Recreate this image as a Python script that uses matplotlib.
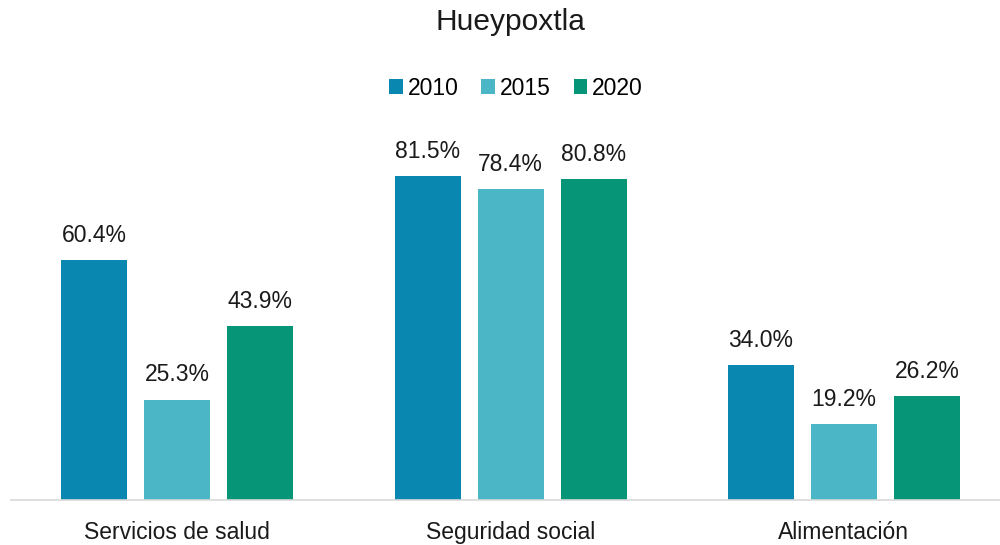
import matplotlib.pyplot as plt
import numpy as np

plt.rcParams['font.family'] = ['Liberation Sans', 'DejaVu Sans']

categories = ["Servicios de salud", "Seguridad social", "Alimentación"]
years = ["2010", "2015", "2020"]
values_2010 = [60.4, 81.5, 34.0]
values_2015 = [25.3, 78.4, 19.2]
values_2020 = [43.9, 80.8, 26.2]
colors = ["#0a87b0", "#4bb6c6", "#069576"]

fig = plt.figure(figsize=(10, 5.45), dpi=100)
ax = fig.add_axes([0.0105, 0.0826, 1.0, 0.7284])

x = np.arange(len(categories))
width = 0.198
step = 0.249
series = [values_2010, values_2015, values_2020]
for i, (vals, year, color) in enumerate(zip(series, years, colors)):
    bars = ax.bar(x + (i - 1) * step, vals, width, color=color, label=year)
    for b, v in zip(bars, vals):
        ax.annotate(f"{v:.1f}%", (b.get_x() + b.get_width() / 2, v),
                    xytext=(0, 9.5), textcoords="offset points",
                    ha="center", va="bottom", fontsize=16.5, color="#1a1a1a")

ax.set_xlim(-0.5, 2.5)
ax.set_ylim(0, 100)
ax.set_yticks([])
ax.set_xticks(x)
ax.set_xticklabels(categories, fontsize=16.5, color="#1a1a1a")
ax.tick_params(axis="x", length=0, pad=15)
for side in ["top", "right", "left"]:
    ax.spines[side].set_visible(False)
ax.spines["bottom"].set_color("#d9d9d9")
ax.spines["bottom"].set_linewidth(1.2)

fig.suptitle("Hueypoxtla", fontsize=21.5, x=0.51, y=0.985, color="#1a1a1a")
fig.legend(loc="center", bbox_to_anchor=(0.516, 0.838), ncol=3, frameon=False,
           fontsize=16.5, handlelength=0.6, handleheight=0.6, handletextpad=0.2,
           columnspacing=1.0)

fig.savefig("out.png", dpi=100)
